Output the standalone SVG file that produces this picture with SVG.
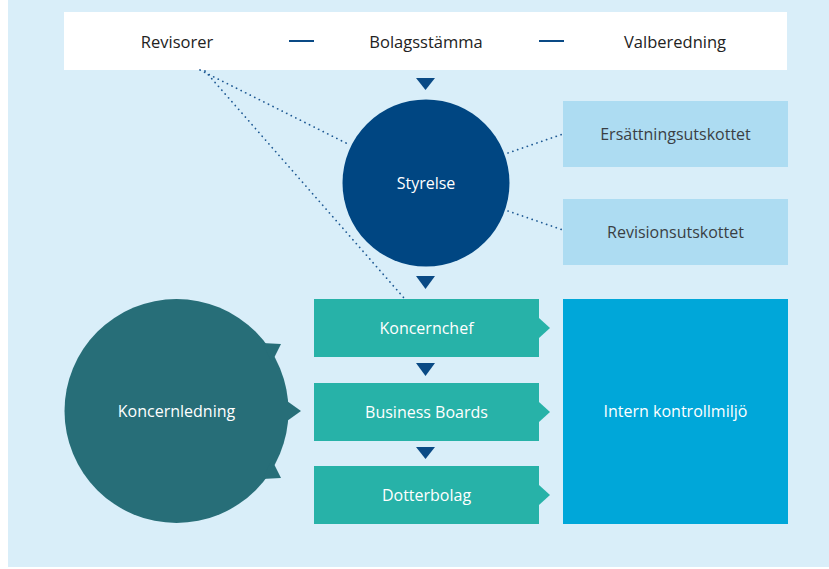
<svg xmlns="http://www.w3.org/2000/svg" width="829" height="569" viewBox="0 0 829 569">
<defs>
<style>
text{font-family:"Open Sans","Noto Sans",sans-serif;font-size:16px;text-anchor:middle;dominant-baseline:central}
.dk{fill:#222;font-size:16.5px}
.wh{fill:#fff;font-weight:500}
.gr{fill:#3a3f44}
.dot{fill:none;stroke:#1f5a94;stroke-width:1.7;stroke-dasharray:0.1 5;stroke-linecap:round}
.tri{fill:#0a4a85}
.gtri{fill:#27b2a8}
.gbox{fill:#27b2a8}
.lbox{fill:#addcf2}
</style>
</defs>
<rect x="8" y="0" width="821" height="567" fill="#d9eef9"/>
<g id="top">
<rect x="64" y="12" width="723" height="58" fill="#fff"/>
<text class="dk" x="177" y="41">Revisorer</text>
<text class="dk" x="426" y="41">Bolagsstämma</text>
<text class="dk" x="675" y="41">Valberedning</text>
<line x1="289" y1="41" x2="314" y2="41" stroke="#0a4a85" stroke-width="2"/>
<line x1="539" y1="41" x2="564" y2="41" stroke="#0a4a85" stroke-width="2"/>
</g>
<g id="connectors">
<path class="dot" d="M200 70 L350 145"/>
<path class="dot" d="M205 71 L404 298"/>
<path class="dot" d="M508 153 L563 134"/>
<path class="dot" d="M508 211 L563 230"/>
<polygon class="tri" points="416,78 435,78 425.5,90"/>
<polygon class="tri" points="416,276 435,276 425.5,289"/>
<polygon class="tri" points="416,363 435,363 425.5,376"/>
<polygon class="tri" points="416,447 435,447 425.5,459"/>
<polygon class="gtri" points="539,318 550,328 539,338"/>
<polygon class="gtri" points="539,402 550,412 539,422"/>
<polygon class="gtri" points="539,485 550,495 539,505"/>
</g>
<g id="styrelse">
<circle cx="426" cy="183" r="83.5" fill="#004682"/>
<text class="wh" x="426" y="183">Styrelse</text>
</g>
<g id="ersattning">
<rect class="lbox" x="563" y="101" width="225" height="66"/>
<text class="gr" x="675.5" y="134">Ersättningsutskottet</text>
</g>
<g id="revision">
<rect class="lbox" x="563" y="199" width="225" height="66"/>
<text class="gr" x="675.5" y="232">Revisionsutskottet</text>
</g>
<g id="koncernledning">
<circle cx="176.5" cy="411" r="112" fill="#276e78"/>
<polygon points="262,343 281,344 272,362" fill="#276e78"/>
<polygon points="287,401 301,411 287,421" fill="#276e78"/>
<polygon points="262,479 281,478 272,460" fill="#276e78"/>
<text class="wh" x="176.5" y="411">Koncernledning</text>
</g>
<g id="koncernchef">
<rect class="gbox" x="314" y="299" width="225" height="58"/>
<text class="wh" x="426.5" y="328">Koncernchef</text>
</g>
<g id="business">
<rect class="gbox" x="314" y="383" width="225" height="58"/>
<text class="wh" x="426.5" y="412">Business Boards</text>
</g>
<g id="dotterbolag">
<rect class="gbox" x="314" y="466" width="225" height="58"/>
<text class="wh" x="426.5" y="495">Dotterbolag</text>
</g>
<g id="intern">
<rect x="563" y="299" width="225" height="225" fill="#00a7d9"/>
<text class="wh" x="675.5" y="411">Intern kontrollmiljö</text>
</g>
</svg>
